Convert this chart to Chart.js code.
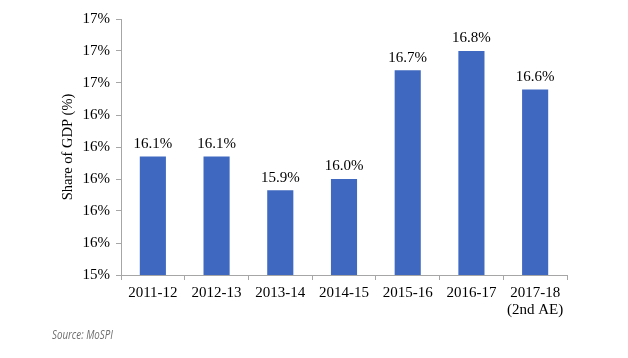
<!DOCTYPE html>
<html>
<head>
<meta charset="utf-8">
<script src="https://cdn.jsdelivr.net/npm/chart.js@4.4.0/dist/chart.umd.min.js"></script>
<style>
  html, body { margin: 0; padding: 0; background: #fff; }
  #wrap { position: relative; width: 628px; height: 358px; }
  #source {
    position: absolute; left: 52px; top: 326px;
    font-family: "Open Sans", sans-serif; font-style: italic; font-size: 12.5px;
    color: #6d6d6d; transform: scaleX(0.78); transform-origin: left top;
    white-space: nowrap;
  }
</style>
</head>
<body>
<div id="wrap">
  <canvas id="chart" width="628" height="358"></canvas>
  <div id="source">Source: MoSPI</div>
</div>
<script>
// Share of GDP by year
const years = ['2011-12', '2012-13', '2013-14', '2014-15', '2015-16', '2016-17', ['2017-18', '(2nd AE)']];
const shareOfGdp = [16.14, 16.14, 15.93, 16.0, 16.68, 16.8, 16.56];

const yMin = 15.4;
const yMax = 17.0;
const yStep = 0.2;

const serif = '"Liberation Serif", "Times New Roman", serif';

// draws the value above each bar
const barLabels = {
  id: 'barLabels',
  afterDatasetsDraw(chart) {
    const ctx = chart.ctx;
    const meta = chart.getDatasetMeta(0);
    ctx.save();
    ctx.font = '15px ' + serif;
    ctx.fillStyle = '#000';
    ctx.textAlign = 'center';
    ctx.textBaseline = 'bottom';
    meta.data.forEach((bar, i) => {
      ctx.fillText(shareOfGdp[i].toFixed(1) + '%', bar.x, bar.y - 5);
    });
    ctx.restore();
  }
};

const ctx = document.getElementById('chart').getContext('2d');

new Chart(ctx, {
  type: 'bar',
  data: {
    labels: years,
    datasets: [{
      data: shareOfGdp,
      backgroundColor: '#3F68C0',
      barPercentage: 0.41,
      categoryPercentage: 1
    }]
  },
  options: {
    responsive: false,
    animation: false,
    layout: { padding: { top: 19, right: 61, bottom: 0, left: 0 } },
    plugins: {
      legend: { display: false },
      tooltip: { enabled: false }
    },
    scales: {
      x: {
        afterFit: s => { s.height = 83; },
        border: { color: '#a6a6a6', width: 1 },
        grid: { display: true, drawOnChartArea: false, drawTicks: true, tickLength: 5, color: '#a6a6a6', offset: true },
        ticks: { color: '#000', font: { family: serif, size: 15, lineHeight: 1.15 }, padding: 4, maxRotation: 0, autoSkip: false }
      },
      y: {
        min: yMin,
        max: yMax,
        afterFit: s => { s.width = 121; },
        border: { color: '#a6a6a6', width: 1 },
        grid: { display: true, drawOnChartArea: false, drawTicks: true, tickLength: 5, color: '#a6a6a6' },
        ticks: {
          stepSize: yStep,
          color: '#000',
          padding: 6,
          font: { family: serif, size: 15 },
          callback: v => Math.round(v) + '%'
        },
        title: {
          display: true,
          text: 'Share of GDP (%)',
          color: '#000',
          font: { family: serif, size: 14.5 },
          padding: { top: 59, bottom: 0 }
        }
      }
    }
  },
  plugins: [barLabels]
});
</script>
</body>
</html>
